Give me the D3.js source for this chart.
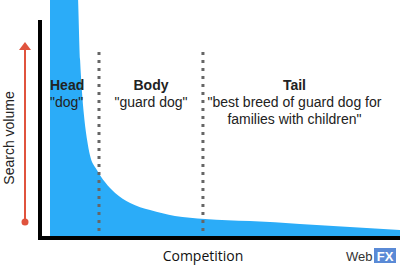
<!DOCTYPE html>
<html><head><meta charset="utf-8">
<script src="https://cdn.jsdelivr.net/npm/d3@7"></script>
<style>html,body{margin:0;padding:0;background:#fff;overflow:hidden}</style>
</head><body>
<svg id="c" width="400" height="266"></svg>
<script>
// Data (competition vs search volume, arbitrary units)
const competition = [0, 7.7, 8.6, 9.1, 9.7, 10.6, 11.4, 13.4, 15.7, 18.6, 22.9, 28.6, 35.7, 44.3, 57.1, 71.4, 85.7, 100];
const volume      = [118, 118, 81.5, 67.6, 56.0, 44.4, 37.5, 30.6, 25.0, 19.9, 15.3, 12.0, 9.3, 7.9, 6.9, 5.6, 4.2, 2.8];
const dividers = [14.0, 43.7];
const segmentNames = ["Head", "Body", "Tail"];
const segmentExamples = [["\"dog\""], ["\"guard dog\""], ["\"best breed of guard dog for", "families with children\""]];
const xTitle = "Competition";
const yTitle = "Search volume";

const svg = d3.select("#c");
const x = d3.scaleLinear().domain([0, 100]).range([50, 400]);
const y = d3.scaleLinear().domain([0, 100]).range([236, 20]);
const pts = competition.map((c, i) => [c, volume[i]]);

// filled area
svg.append("path")
  .datum(pts)
  .attr("fill", "#2bacf8")
  .attr("d", d3.area().x(d => x(d[0])).y0(y(0)).y1(d => y(d[1])).curve(d3.curveMonotoneX));

// dividers
svg.selectAll("line.div").data(dividers).join("line")
  .attr("x1", d => x(d)).attr("x2", d => x(d))
  .attr("y1", 52).attr("y2", 236)
  .attr("stroke", "#666").attr("stroke-width", 3).attr("stroke-dasharray", "3,5");

// axes
svg.append("line").attr("x1", 40).attr("x2", 40).attr("y1", y(100)).attr("y2", 240)
  .attr("stroke", "#000").attr("stroke-width", 4);
svg.append("line").attr("x1", 38).attr("x2", 400).attr("y1", 238).attr("y2", 238)
  .attr("stroke", "#000").attr("stroke-width", 4);

// red arrow
const red = "#e0533d";
svg.append("line").attr("x1", 25).attr("x2", 25).attr("y1", 48).attr("y2", 222)
  .attr("stroke", red).attr("stroke-width", 2);
svg.append("path").attr("d", "M25,42 L31,50 L19,50 Z").attr("fill", red);
svg.append("circle").attr("cx", 25).attr("cy", 222).attr("r", 3.5).attr("fill", red);

// y title
svg.append("text").attr("transform", "translate(14,138) rotate(-90)")
  .attr("text-anchor", "middle").attr("font-family", "Liberation Sans, Arial, sans-serif")
  .attr("font-size", 14).attr("fill", "#222").text(yTitle);

// x title
svg.append("text").attr("x", 203).attr("y", 261).attr("text-anchor", "middle")
  .attr("font-family", "Open Sans, sans-serif").attr("font-size", 14).attr("fill", "#111").text(xTitle);

// segment labels
const bounds = [0, ...dividers, 96];
const font = "Liberation Sans, Arial, sans-serif";
segmentNames.forEach((name, i) => {
  const cx = i === 0 ? x(0) : (x(bounds[i]) + x(bounds[i + 1])) / 2;
  const anchor = i === 0 ? "start" : "middle";
  svg.append("text").attr("x", cx).attr("y", 90).attr("text-anchor", anchor)
    .attr("font-family", font).attr("font-weight", "bold").attr("font-size", 14).attr("fill", "#222").text(name);
  segmentExamples[i].forEach((line, j) => {
    svg.append("text").attr("x", cx).attr("y", 107 + j * 17).attr("text-anchor", anchor)
      .attr("font-family", font).attr("font-size", 14).attr("fill", "#222").text(line);
  });
});

// WebFX logo
svg.append("text").attr("x", 346).attr("y", 261).attr("font-family", font)
  .attr("font-size", 13).attr("fill", "#333").text("Web");
svg.append("rect").attr("x", 374).attr("y", 248).attr("width", 22).attr("height", 15).attr("fill", "#5a8ad6");
svg.append("text").attr("x", 385).attr("y", 260.5).attr("text-anchor", "middle").attr("font-family", font)
  .attr("font-weight", "bold").attr("font-size", 13).attr("fill", "#fff").text("FX");
</script>
</body></html>
